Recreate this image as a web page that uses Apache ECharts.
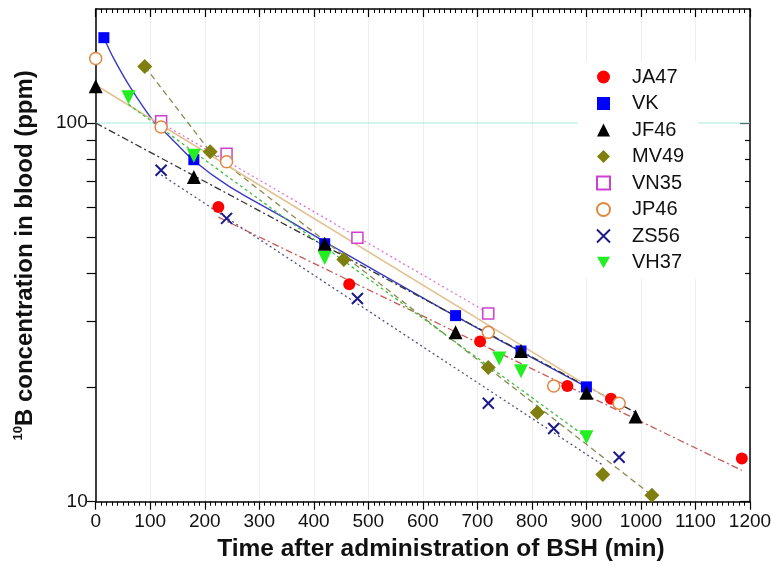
<!DOCTYPE html>
<html>
<head>
<meta charset="utf-8">
<script src="https://cdn.jsdelivr.net/npm/echarts@6/dist/echarts.min.js"></script>
<style>html,body{margin:0;padding:0;background:#fff}#c{width:772px;height:577px}</style>
</head>
<body>
<div id="c"></div>
<script>
// ---- data ----
const names = ['JA47','VK','JF46','MV49','VN35','JP46','ZS56','VH37'];
const xTicks = [0,100,200,300,400,500,600,700,800,900,1000,1100,1200];
const yMajorTicks = [10,100];
const yMinorTicks = [20,30,40,50,60,70,80,90];

const JA47 = [[225,60],[465,37.5],[705,26.5],[865,20.2],[945,18.7],[1185,13]];
const VK   = [[15,168],[180,80],[420,48],[660,31],[780,25],[900,20.1]];
const JF46 = [[0,125],[180,72],[420,48],[660,28],[780,25],[900,19.4],[990,16.8]];
const MV49 = [[90,141],[210,84],[455,43.6],[720,22.6],[810,17.2],[930,11.8],[1020,10.4]];
const VN35 = [[120,101],[240,83],[480,49.8],[720,31.4]];
const JP46 = [[0,148],[120,97.6],[240,79],[720,28],[840,20.2],[960,18.2]];
const ZS56 = [[120,75],[240,56],[480,34.4],[720,18.2],[840,15.6],[960,13.1]];
const VH37 = [[60,117],[180,82],[420,44],[740,23.9],[780,22.1],[900,14.8]];

// fitted curves
const JA47_fit = [[225,56.4],[1185,12.1]];
const VK_fit   = [[15,168],[32,149],[63,124.5],[105,101.6],[136,91.9],[179,79.7],[246,67.8],[338,57.0],[421,48.5],[660,30.9],[900,20.1]];
const JF46_fit = [[0,100],[990,17.2]];
const MV49_fit = [[90,141],[210,84],[1020,10.4]];
const VN35_fit = [[120,100],[720,31.5]];
const JP46_fit = [[0,126],[960,18]];
const ZS56_fit = [[120,73],[930,12.5]];
const VH37_fit = [[60,112],[900,14.8]];
const refLine100 = [[0,100],[1200,100]];

const FONT = "'Liberation Sans', Arial, sans-serif";
const X_PATH = 'path://M0,0 L10,10 M10,0 L0,10';
const DOWN_TRI = 'path://M0,0 L10,0 L5,9 Z';

function fitLine(name, data, color, type, smooth, width, z) {
  return {
    name: name, type: 'line', data: data, showSymbol: false, symbol: 'none',
    smooth: smooth || false, silent: true, z: z || 2, xAxisIndex: 0, yAxisIndex: 0,
    lineStyle: {color: color, width: width || 1.3, type: type, opacity: 1},
    emphasis: {disabled: true}
  };
}
function pts(name, data, symbol, size, itemStyle, extra) {
  return Object.assign({
    name: name, type: 'scatter', data: data, symbol: symbol, symbolSize: size,
    itemStyle: Object.assign({opacity: 1}, itemStyle), z: 5, xAxisIndex: 0, yAxisIndex: 0,
    emphasis: {disabled: true}
  }, extra || {});
}
const fmt = function (v) { return String(v); };
const legendData = names.map(function (n) { return n === 'VH37' ? {name: n, icon: DOWN_TRI} : {name: n}; });

const chart = echarts.init(document.getElementById('c'), null, {renderer: 'canvas'});
const commonY = {type: 'log', logBase: 10, min: 10, max: 200};
chart.setOption({
  animation: false,
  backgroundColor: '#fff',
  textStyle: {fontFamily: FONT},
  grid: {left: 95.7, right: 22, top: 9, bottom: 75.3, containLabel: false, outerBoundsMode: 'none'},
  legend: {
    data: legendData, orient: 'vertical', left: 578, top: 61, z: 10,
    backgroundColor: '#fff', padding: [6, 14, 6, 18],
    itemWidth: 13, itemHeight: 13, itemGap: 6.5,
    textStyle: {fontSize: 20, color: '#111', fontFamily: FONT, padding: [0, 0, 0, 17]}
  },
  xAxis: [{
    type: 'value', min: 0, max: 1200, interval: 100, position: 'bottom',
    axisLine: {show: true, onZero: false, lineStyle: {color: '#000', width: 1.5}},
    axisTick: {show: true, length: 8, lineStyle: {color: '#000', width: 1.2}},
    minorTick: {show: true, splitNumber: 10, length: 4, lineStyle: {color: '#000', width: 1}},
    axisLabel: {fontSize: 19, color: '#111', margin: 11, fontFamily: FONT, formatter: fmt, customValues: xTicks},
    splitLine: {show: true, lineStyle: {color: '#eeeeee', width: 1}},
    minorSplitLine: {show: false},
    name: 'Time after administration of BSH (min)', nameLocation: 'middle', nameGap: 34,
    nameTextStyle: {fontSize: 24.5, fontWeight: 'bold', color: '#111', fontFamily: FONT, padding: [0, 0, 0, 36]}
  }, {
    type: 'value', min: 0, max: 1200, interval: 100, position: 'top',
    axisLine: {show: true, onZero: false, lineStyle: {color: '#000', width: 1.5}},
    axisTick: {show: true, inside: true, length: 8, lineStyle: {color: '#000', width: 1.2}},
    minorTick: {show: true, splitNumber: 10, length: 4, lineStyle: {color: '#000', width: 1}},
    axisLabel: {show: false}, splitLine: {show: false}
  }],
  yAxis: [Object.assign({}, commonY, {
    position: 'left',
    axisLine: {show: true, onZero: false, lineStyle: {color: '#000', width: 1.5}},
    axisTick: {show: true, length: 9, customValues: yMajorTicks.concat(yMinorTicks), lineStyle: {color: '#000', width: 1.2}},
    axisLabel: {fontSize: 19, color: '#111', margin: 8, fontFamily: FONT, formatter: fmt, customValues: yMajorTicks},
    splitLine: {show: false}, minorSplitLine: {show: false},
    name: '{sup|10}{b|B concentration in blood (ppm)}', nameLocation: 'middle', nameGap: 56,
    nameTextStyle: {
      color: '#111', fontFamily: FONT,
      rich: {
        sup: {fontSize: 13, fontWeight: 'bold', color: '#111', lineHeight: 14, verticalAlign: 'top', fontFamily: FONT},
        b: {fontSize: 24, fontWeight: 'bold', color: '#111', lineHeight: 28, fontFamily: FONT}
      }
    }
  }), Object.assign({}, commonY, {
    position: 'right',
    axisLine: {show: true, onZero: false, lineStyle: {color: '#000', width: 1.5}},
    axisTick: {show: true, inside: true, length: 10, customValues: yMajorTicks, lineStyle: {color: '#000', width: 1.2}},
    axisLabel: {show: false}, splitLine: {show: false}, minorSplitLine: {show: false}
  }), Object.assign({}, commonY, {
    position: 'right',
    axisLine: {show: false, onZero: false},
    axisTick: {show: true, inside: true, length: 5, customValues: yMinorTicks, lineStyle: {color: '#000', width: 1.2}},
    axisLabel: {show: false}, splitLine: {show: false}, minorSplitLine: {show: false}
  })],
  series: [
    fitLine('ref 100', refLine100, '#a8ece0', 'solid', false, 1.2, 1),
    fitLine('JA47 fit', JA47_fit, '#c85a5a', [7,3,2,3]),
    fitLine('VK fit', VK_fit, '#3a3ac8', 'solid', 0.3, 1.4),
    fitLine('JF46 fit', JF46_fit, '#333333', [7,3,2,3]),
    fitLine('MV49 fit', MV49_fit, '#8a8a50', [6,4]),
    fitLine('VN35 fit', VN35_fit, '#e070e0', [2,3]),
    fitLine('JP46 fit', JP46_fit, '#e2c090', 'solid', false, 1.5),
    fitLine('ZS56 fit', ZS56_fit, '#505080', [2,3]),
    fitLine('VH37 fit', VH37_fit, '#40c040', [3,3]),
    pts('JA47', JA47, 'circle', 12, {color: '#ff0000'}),
    pts('VK', VK, 'rect', 11, {color: '#0000ff'}),
    pts('JF46', JF46, 'triangle', 14, {color: '#000000'}),
    pts('MV49', MV49, 'diamond', 15, {color: '#7f7f10'}),
    pts('VN35', VN35, 'rect', 11, {color: '#ffffff', borderColor: '#d040d0', borderWidth: 1.5}),
    pts('JP46', JP46, 'circle', 12, {color: '#ffffff', borderColor: '#e08840', borderWidth: 1.5}),
    pts('ZS56', ZS56, X_PATH, 11, {color: 'rgba(0,0,0,0)', borderColor: '#1a1a8c', borderWidth: 2}),
    pts('VH37', VH37, 'triangle', 14, {color: '#22ee22'}, {symbolRotate: 180})
  ]
});
</script>
</body>
</html>
